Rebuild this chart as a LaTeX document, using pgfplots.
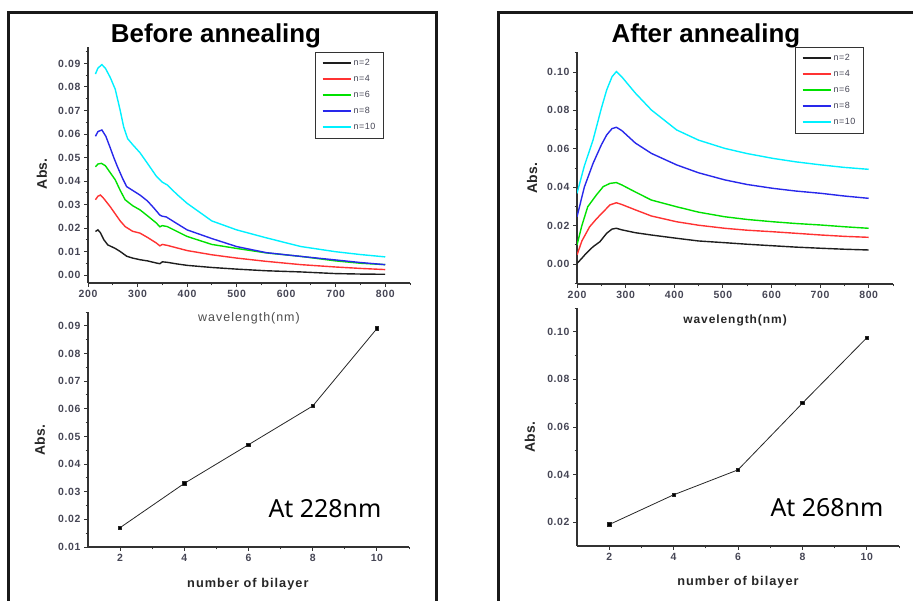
\documentclass[border=0pt]{standalone}
\usepackage{pgfplots}
\pgfplotsset{compat=1.18}
\usepackage{fontspec}
\setmainfont{Liberation Sans}
\newfontfamily\tickfont[LetterSpace=6]{Liberation Sans}
\newfontfamily\wlfont[LetterSpace=8]{Liberation Sans}
\newfontfamily\atfont{Noto Sans}

\definecolor{tickcol}{RGB}{70,70,85}
\definecolor{c2}{RGB}{30,30,30}
\definecolor{c4}{RGB}{255,50,50}
\definecolor{c6}{RGB}{0,225,0}
\definecolor{c8}{RGB}{40,40,235}
\definecolor{c10}{RGB}{0,240,255}

\newcommand{\legtxt}[1]{\textcolor{tickcol}{#1}}

\pgfplotsset{
  legend image code/.code={\draw[#1, line width=2bp] (0bp,0bp) -- (28bp,0bp);},
}
\pgfplotsset{
  origin/.style={
    scale only axis,
    anchor=south west,
    axis x line*=bottom, axis y line*=left,
    axis line style={line width=1.1bp, black!80},
    tick align=outside,
    major tick length=4bp, minor tick length=2.5bp,
    every tick/.style={line width=0.9bp, black!80},
    tick label style={font=\fontsize{10.5}{11}\selectfont\tickfont\bfseries, text=tickcol},
    /pgf/number format/assume math mode=true,
    scaled y ticks=false, scaled x ticks=false,
    ylabel style={font=\fontsize{14}{14}\selectfont\bfseries, text=black!85, anchor=center},
    xlabel style={anchor=center},
    yticklabel style={/pgf/number format/fixed, /pgf/number format/fixed zerofill, /pgf/number format/precision=2},
    legend cell align=left,
    legend style={anchor=north west, draw=black!80, line width=1.1bp,
      font=\fontsize{9}{9}\selectfont\tickfont,
      inner xsep=6bp, inner ysep=5bp, row sep=4.3bp},
  },
  spec/.style={line width=1.4bp},
  pts/.style={black!85, line width=0.8bp, mark=square*, mark size=1.7bp, mark options={fill=black, solid}},
}

\begin{document}
\begin{tikzpicture}[x=1bp,y=1bp]
\useasboundingbox (0,0) rectangle (913,601);
\begin{scope}
  \clip (0,0) rectangle (913,601);
  \draw[line width=3bp, black!90] (8,588) rectangle (436,-20);
  \draw[line width=3bp, black!90] (498,588) rectangle (940,-20);
\end{scope}

\node[anchor=base, font=\fontsize{26}{26}\selectfont\bfseries] at (216bp,558bp) {Before annealing};
\node[anchor=base, font=\fontsize{26}{26}\selectfont\bfseries] at (706bp,558bp) {After annealing};

% ---------------- left top
\begin{axis}[origin, at={(88bp,318bp)}, width=322bp, height=236bp,
  xmin=200, xmax=850, ymin=-0.0034, ymax=0.097,
  xtick={200,300,...,800}, minor xtick={250,350,...,850},
  ytick={0,0.01,...,0.09}, minor ytick={0.005,0.015,...,0.095},
  xlabel={wavelength(nm)}, ylabel={Abs.},
  xlabel style={at={(axis description cs:0.5,-0.148)}, font=\fontsize{12.5}{12}\selectfont\wlfont, text=black!70},
  ylabel style={at={(axis description cs:-0.143,0.462)}},
  legend style={at={(axis description cs:0.705,0.979)}},
]
\addplot[spec, c2] coordinates {(215,0.0185)(220,0.0192)(225,0.0180)(232,0.0150)(240,0.0128)(255,0.0113)(265,0.0100)(278,0.0080)(290,0.0072)(305,0.0065)(320,0.0060)(338,0.0051)(345,0.0048)(350,0.0056)(360,0.0054)(380,0.0047)(400,0.0041)(450,0.0032)(500,0.0025)(560,0.0018)(630,0.0013)(700,0.0006)(750,0.0004)(800,0.0003)};
\addplot[spec, c4] coordinates {(215,0.0320)(220,0.0335)(225,0.0340)(232,0.0325)(245,0.0290)(255,0.0260)(265,0.0230)(275,0.0206)(290,0.0186)(305,0.0178)(320,0.0160)(338,0.0136)(345,0.0124)(350,0.0130)(360,0.0126)(380,0.0115)(400,0.0104)(450,0.0086)(500,0.0072)(560,0.0058)(630,0.0044)(700,0.0034)(750,0.0028)(800,0.0023)};
\addplot[spec, c6] coordinates {(215,0.0460)(220,0.0472)(227,0.0475)(235,0.0465)(245,0.0435)(255,0.0405)(265,0.0360)(275,0.0320)(290,0.0295)(305,0.0277)(320,0.0252)(338,0.0221)(345,0.0205)(350,0.0210)(360,0.0206)(380,0.0185)(400,0.0164)(450,0.0130)(500,0.0113)(560,0.0094)(630,0.0079)(700,0.0060)(750,0.0050)(800,0.0044)};
\addplot[spec, c8] coordinates {(215,0.0590)(220,0.0610)(228,0.0617)(236,0.0590)(244,0.0546)(252,0.0500)(260,0.0458)(270,0.0410)(278,0.0376)(290,0.0360)(305,0.0340)(320,0.0315)(333,0.0285)(345,0.0255)(350,0.0250)(358,0.0247)(380,0.0218)(400,0.0192)(450,0.0155)(500,0.0121)(560,0.0095)(630,0.0079)(700,0.0064)(750,0.0053)(800,0.0044)};
\addplot[spec, c10] coordinates {(215,0.0855)(220,0.0880)(228,0.0895)(235,0.0880)(245,0.0840)(255,0.0790)(265,0.0700)(272,0.0630)(280,0.0580)(290,0.0555)(305,0.0520)(320,0.0475)(338,0.0420)(350,0.0395)(360,0.0383)(380,0.0342)(400,0.0305)(450,0.0230)(500,0.0192)(560,0.0158)(630,0.0121)(700,0.0099)(750,0.0087)(800,0.0077)};
\legend{\legtxt{n=2},\legtxt{n=4},\legtxt{n=6},\legtxt{n=8},\legtxt{n=10}}
\end{axis}

% ---------------- left bottom
\begin{axis}[origin, at={(88bp,54bp)}, width=321bp, height=235bp,
  xmin=1, xmax=11, ymin=0.01, ymax=0.095,
  xtick={2,4,...,10}, minor xtick={3,5,...,11},
  ytick={0.01,0.02,...,0.09}, minor ytick={0.015,0.025,...,0.095},
  xticklabel style={/pgf/number format/fixed, /pgf/number format/precision=0},
  xlabel={number of bilayer}, ylabel={Abs.},
  xlabel style={at={(axis description cs:0.498,-0.157)}, font=\fontsize{12.8}{12}\selectfont\wlfont\bfseries, text=black!85},
  ylabel style={at={(axis description cs:-0.150,0.455)}},
]
\addplot[pts] coordinates {(2,0.017)(4,0.033)(6,0.047)(8,0.061)(10,0.089)};
\end{axis}
\node[anchor=base west, font=\fontsize{25}{25}\selectfont\atfont] at (265bp,83bp) {At 228nm};

% ---------------- right top
\begin{axis}[origin, at={(577bp,317bp)}, width=316bp, height=232bp,
  xmin=200, xmax=850, ymin=-0.0104, ymax=0.1104,
  xtick={200,300,...,800}, minor xtick={250,350,...,850},
  ytick={0,0.02,...,0.10}, minor ytick={-0.01,0.01,...,0.11},
  xlabel={wavelength(nm)}, ylabel={Abs.},
  xlabel style={at={(axis description cs:0.5,-0.155)}, font=\fontsize{12}{12}\selectfont\wlfont\bfseries, text=black!85},
  ylabel style={at={(axis description cs:-0.142,0.457)}},
  legend style={at={(axis description cs:0.690,1.0216)}},
]
\addplot[spec, c2] coordinates {(200,0.0003)(210,0.0030)(219,0.0056)(233,0.0090)(247,0.0116)(261,0.0160)(272,0.0182)(281,0.0186)(292,0.0178)(320,0.0163)(353,0.0151)(405,0.0134)(450,0.0120)(504,0.0111)(550,0.0103)(603,0.0095)(650,0.0088)(702,0.0082)(750,0.0077)(800,0.0073)};
\addplot[spec, c4] coordinates {(200,0.0047)(210,0.0120)(226,0.0194)(240,0.0235)(254,0.0272)(268,0.0308)(281,0.0319)(292,0.0310)(320,0.0282)(353,0.0250)(405,0.0220)(450,0.0202)(504,0.0186)(550,0.0176)(603,0.0168)(650,0.0160)(702,0.0151)(750,0.0144)(800,0.0139)};
\addplot[spec, c6] coordinates {(200,0.0099)(210,0.0200)(222,0.0298)(240,0.0360)(254,0.0403)(268,0.0420)(281,0.0424)(292,0.0412)(320,0.0375)(353,0.0333)(405,0.0298)(450,0.0270)(504,0.0246)(550,0.0232)(603,0.0220)(650,0.0211)(702,0.0203)(750,0.0194)(800,0.0186)};
\addplot[spec, c8] coordinates {(200,0.0246)(215,0.0400)(233,0.0524)(250,0.0620)(261,0.0672)(272,0.0705)(281,0.0712)(292,0.0695)(320,0.0630)(353,0.0576)(405,0.0516)(450,0.0475)(504,0.0438)(550,0.0414)(603,0.0394)(650,0.0380)(702,0.0368)(750,0.0354)(800,0.0342)};
\addplot[spec, c10] coordinates {(200,0.0368)(215,0.0510)(233,0.0646)(250,0.0810)(261,0.0906)(272,0.0975)(281,0.1002)(292,0.0975)(320,0.0890)(353,0.0802)(405,0.0698)(450,0.0645)(504,0.0602)(550,0.0575)(603,0.0550)(650,0.0532)(702,0.0516)(750,0.0503)(800,0.0493)};
\legend{\legtxt{n=2},\legtxt{n=4},\legtxt{n=6},\legtxt{n=8},\legtxt{n=10}}
\end{axis}

% ---------------- right bottom
\begin{axis}[origin, at={(577bp,55bp)}, width=322bp, height=238bp,
  xmin=1, xmax=11, ymin=0.01, ymax=0.11,
  xtick={2,4,...,10}, minor xtick={3,5,...,11},
  ytick={0.02,0.04,...,0.10}, minor ytick={0.03,0.05,...,0.11},
  xticklabel style={/pgf/number format/fixed, /pgf/number format/precision=0},
  xlabel={number of bilayer}, ylabel={Abs.},
  xlabel style={at={(axis description cs:0.5,-0.151)}, font=\fontsize{12.8}{12}\selectfont\wlfont\bfseries, text=black!85},
  ylabel style={at={(axis description cs:-0.146,0.458)}},
]
\addplot[pts] coordinates {(2,0.019)(4,0.0315)(6,0.042)(8,0.070)(10,0.0975)};
\end{axis}
\node[anchor=base west, font=\fontsize{25}{25}\selectfont\atfont] at (767bp,84bp) {At 268nm};
\end{tikzpicture}
\end{document}
